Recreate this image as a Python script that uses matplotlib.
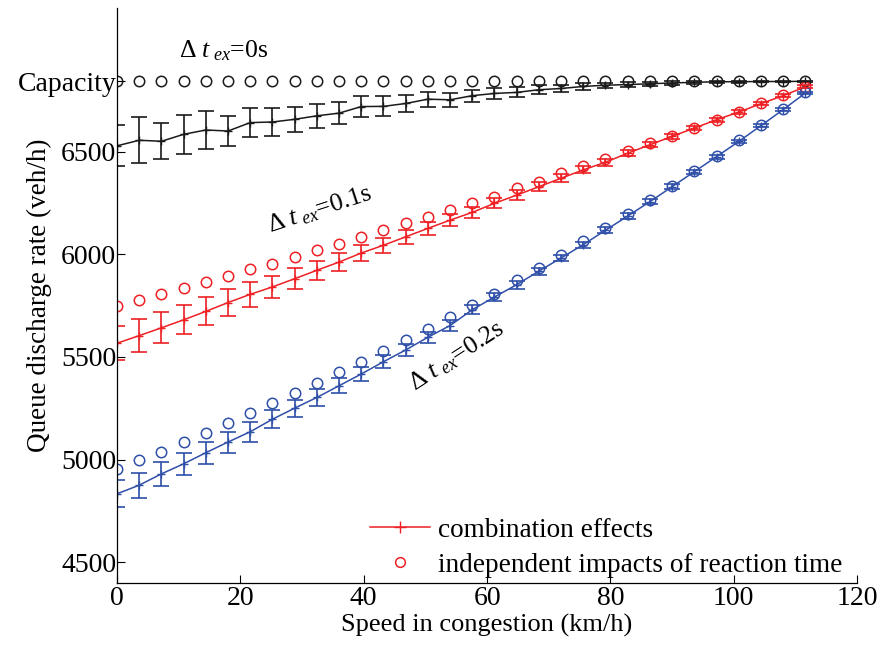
import matplotlib
matplotlib.use("Agg")
import matplotlib.pyplot as plt
from matplotlib.lines import Line2D
import numpy as np

plt.rcParams["font.family"] = ["Liberation Serif", "DejaVu Serif"]
plt.rcParams["mathtext.fontset"] = "custom"
plt.rcParams["mathtext.rm"] = "Liberation Serif"
plt.rcParams["mathtext.it"] = "Liberation Serif:italic"

# speed in congestion, 0..31 m/s expressed in km/h
speed = np.arange(32) * 3.6
capacity = 6842

# dt_ex = 0s
black_comb = [6528, 6555, 6550, 6584, 6605, 6600, 6641, 6644, 6657, 6674,
              6687, 6719, 6720, 6734, 6755, 6752, 6772, 6783, 6788, 6801,
              6807, 6817, 6823, 6826, 6830, 6834, 6837, 6840, 6840, 6841,
              6841, 6842]
black_err = [100, 111, 88, 96, 94, 72, 69, 66, 60, 59, 53, 51, 49, 39, 37, 34,
             30, 27, 24, 22, 19, 16, 13, 11, 9, 8, 6, 5, 4, 3, 2, 1]
black_ind = [capacity] * 32

# dt_ex = 0.1s
red_comb = [5567, 5604, 5642, 5681, 5722, 5765, 5805, 5841, 5881, 5922,
            5962, 6006, 6044, 6085, 6126, 6166, 6204, 6248, 6288, 6329,
            6370, 6411, 6448, 6492, 6533, 6574, 6614, 6655, 6692, 6733,
            6772, 6815]
red_err = [84, 81, 75, 71, 68, 64, 60, 55, 51, 46, 43, 40, 37, 35, 32, 30,
           27, 25, 23, 21, 19, 17, 16, 14, 13, 12, 11, 10, 9, 8, 8, 7]
red_ind = [5746, 5775, 5805, 5835, 5865, 5896, 5927, 5955, 5987, 6020,
           6052, 6085, 6117, 6150, 6182, 6215, 6248, 6280, 6321, 6353,
           6394, 6430, 6464, 6503, 6541, 6577, 6617, 6655, 6695, 6736,
           6774, 6815]

# dt_ex = 0.2s
blue_comb = [4834, 4876, 4931, 4980, 5034, 5086, 5136, 5197, 5251, 5303,
             5360, 5417, 5477, 5534, 5596, 5653, 5730, 5792, 5852, 5918,
             5982, 6047, 6117, 6186, 6256, 6329, 6402, 6475, 6549, 6626,
             6704, 6785]
blue_err = [65, 61, 57, 55, 53, 51, 48, 45, 42, 40, 37, 35, 33, 30, 28, 25,
            23, 21, 19, 17, 16, 15, 14, 13, 12, 11, 10, 9, 9, 8, 8, 7]
blue_ind = [4953, 4997, 5039, 5086, 5132, 5178, 5225, 5275, 5324, 5373,
            5425, 5477, 5531, 5585, 5638, 5694, 5751, 5808, 5873, 5933,
            5995, 6064, 6126, 6194, 6264, 6334, 6406, 6479, 6554, 6629,
            6708, 6788]

series = [
    (black_comb, black_err, black_ind, "#1a1a1a"),
    (red_comb, red_err, red_ind, "#ee2024"),
    (blue_comb, blue_err, blue_ind, "#2f4fa8"),
]

fig = plt.figure(figsize=(8.8, 6.47), dpi=100)
ax = fig.add_axes([0.133, 0.099, 0.841, 0.889])

for comb, err, ind, color in series:
    ax.errorbar(speed, comb, yerr=err, color=color, marker="+", markersize=6,
                capsize=5.5, elinewidth=1.2, capthick=1.2, linewidth=1.1)
    ax.plot(speed, ind, "o", mfc="none", mec=color, markersize=7.5, mew=1.1)

ax.set_xlim(0, 120)
ax.set_ylim(4400, 7200)
ax.set_xticks([0, 20, 40, 60, 80, 100, 120])
ax.set_yticks([4500, 5000, 5500, 6000, 6500, capacity])
ax.set_yticklabels(["4500", "5000", "5500", "6000", "6500", "Capacity"])
ax.tick_params(direction="in", length=6, labelsize=20, width=0.8)
ax.tick_params(axis="x", pad=2)
ax.tick_params(axis="y", pad=0.5)
for side in ["top", "right"]:
    ax.spines[side].set_visible(False)
for side in ["left", "bottom"]:
    ax.spines[side].set_linewidth(0.9)

ax.set_xlabel("Speed in congestion (km/h)", fontsize=19, labelpad=2)
ax.set_ylabel("Queue discharge rate (veh/h)", fontsize=19.5)
ax.yaxis.set_label_coords(-0.088, 0.5)

ax.text(10, 6960, r"$\Delta\ t_{\ ex}$=0s", fontsize=18.5, ha="left", va="baseline")
ax.text(24.8, 6103, r"$\Delta\ t_{\ ex}$=0.1s", fontsize=18.5, ha="left",
        va="baseline", rotation=18, rotation_mode="anchor")
ax.text(48.3, 5335, r"$\Delta\ t_{\ ex}$=0.2s", fontsize=18.5, ha="left",
        va="baseline", rotation=33, rotation_mode="anchor")

handles = [
    Line2D([], [], color="#ee2024", marker="+", markersize=9, linewidth=1.1),
    Line2D([], [], color="#ee2024", marker="o", linestyle="none",
           mfc="none", markersize=7, mew=1.1),
]
ax.legend(handles, ["combination effects", "independent impacts of reaction time"],
          loc="lower right", bbox_to_anchor=(0.997, -0.012), frameon=False,
          fontsize=19.6, handlelength=2.2, handletextpad=0.3, labelspacing=0.35,
          borderaxespad=0.05)

fig.savefig("out.png", dpi=100)
plt.close(fig)
